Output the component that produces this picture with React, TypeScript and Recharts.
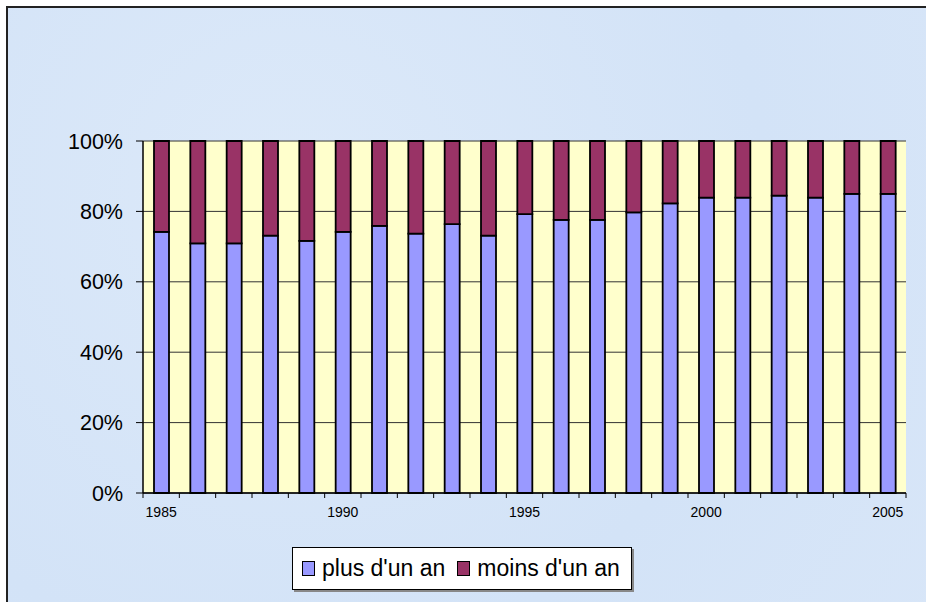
import React from "react";
import {
  BarChart,
  Bar,
  XAxis,
  YAxis,
  CartesianGrid,
} from "recharts";

const YEARS = [
  1985, 1986, 1987, 1988, 1989, 1990, 1991, 1992, 1993, 1994, 1995,
  1996, 1997, 1998, 1999, 2000, 2001, 2002, 2003, 2004, 2005,
];
const PLUS_UN_AN = [
  74.2, 70.9, 70.9, 73.1, 71.6, 74.2, 75.9, 73.7, 76.4, 73.1, 79.2,
  77.6, 77.6, 79.7, 82.3, 83.9, 83.9, 84.5, 83.9, 85.0, 85.0,
];
const MOINS_UN_AN = [
  25.8, 29.1, 29.1, 26.9, 28.4, 25.8, 24.1, 26.3, 23.6, 26.9, 20.8,
  22.4, 22.4, 20.3, 17.7, 16.1, 16.1, 15.5, 16.1, 15.0, 15.0,
];
const Y_TICKS = [0, 20, 40, 60, 80, 100];
const LABELLED_YEARS = [1985, 1990, 1995, 2000, 2005];

const SERIES = [
  { key: "plus", label: "plus d'un an", color: "#9999FF" },
  { key: "moins", label: "moins d'un an", color: "#993366" },
];

const rows = YEARS.map((year, i) => ({
  year,
  plus: PLUS_UN_AN[i],
  moins: MOINS_UN_AN[i],
}));

const FONT = "Arial, 'Liberation Sans', sans-serif";

function YearTick(props: any) {
  const { x, y, payload, index } = props;
  const half = payload?.offset ?? 18.1;
  const last = index === YEARS.length - 1;
  return (
    <g>
      <line x1={x - half} x2={x - half} y1={y} y2={y + 5} stroke="#000" />
      {last && (
        <line x1={x + half} x2={x + half} y1={y} y2={y + 5} stroke="#000" />
      )}
      {LABELLED_YEARS.includes(payload.value) && (
        <text
          x={x}
          y={y + 24}
          textAnchor="middle"
          fontSize={14}
          fontFamily={FONT}
          fill="#000"
        >
          {payload.value}
        </text>
      )}
    </g>
  );
}

export default function App() {
  return (
    <div
      style={{
        position: "fixed",
        left: 0,
        top: 0,
        width: 926,
        height: 602,
        background: "#fff",
        overflow: "hidden",
        fontFamily: FONT,
      }}
    >
      <div
        style={{
          position: "absolute",
          left: 6,
          top: 6,
          width: 940,
          height: 620,
          borderLeft: "2px solid #222",
          borderTop: "2px solid #222",
          background:
            "radial-gradient(circle at 30% 30%, #dce9f9 0%, #d3e3f7 60%, #d8e6f8 100%)",
        }}
      />
      <div style={{ position: "absolute", left: 0, top: 0 }}>
        <BarChart
          width={926}
          height={602}
          data={rows}
          barSize={15}
          margin={{ top: 141, right: 20, left: 83, bottom: 79 }}
        >
          <CartesianGrid
            vertical={false}
            stroke="#333"
            strokeWidth={1}
            fill="#FFFFCC"
            fillOpacity={1}
          />
          <XAxis
            dataKey="year"
            height={30}
            interval={0}
            tickSize={0}
            tickMargin={0}
            tickLine={false}
            axisLine={{ stroke: "#000", strokeWidth: 1.5 }}
            tick={<YearTick />}
          />
          <YAxis
            domain={[0, 100]}
            ticks={Y_TICKS}
            width={60}
            tickSize={7}
            tickMargin={13}
            tickLine={{ stroke: "#000" }}
            axisLine={{ stroke: "#000", strokeWidth: 1.5 }}
            tickFormatter={(v) => `${v}%`}
            tick={{ fill: "#000", fontSize: 21.5, fontFamily: FONT }}
          />
          <YAxis
            yAxisId="right"
            orientation="right"
            width={0}
            tick={false}
            tickLine={false}
            axisLine={{ stroke: "#8c8c8c", strokeWidth: 2 }}
          />
          {SERIES.map((s) => (
            <Bar
              key={s.key}
              dataKey={s.key}
              stackId="a"
              fill={s.color}
              stroke="#000"
              strokeWidth={1.8}
              isAnimationActive={false}
            />
          ))}
        </BarChart>
      </div>
      <div
        style={{
          position: "absolute",
          left: 292,
          top: 547,
          width: 340,
          height: 43,
          background: "#fff",
          border: "1px solid #000",
          boxShadow: "2px 2px 0 #888",
          display: "flex",
          alignItems: "center",
          paddingLeft: 9,
          boxSizing: "border-box",
          fontSize: 23,
          color: "#000",
          whiteSpace: "nowrap",
        }}
      >
        {SERIES.map((s, i) => (
          <span
            key={s.key}
            style={{
              display: "flex",
              alignItems: "center",
              marginRight: i === 0 ? 12 : 0,
            }}
          >
            <span
              style={{
                display: "inline-block",
                width: 11,
                height: 13,
                background: s.color,
                border: "1.5px solid #000",
                marginRight: 7,
              }}
            />
            {s.label}
          </span>
        ))}
      </div>
    </div>
  );
}
